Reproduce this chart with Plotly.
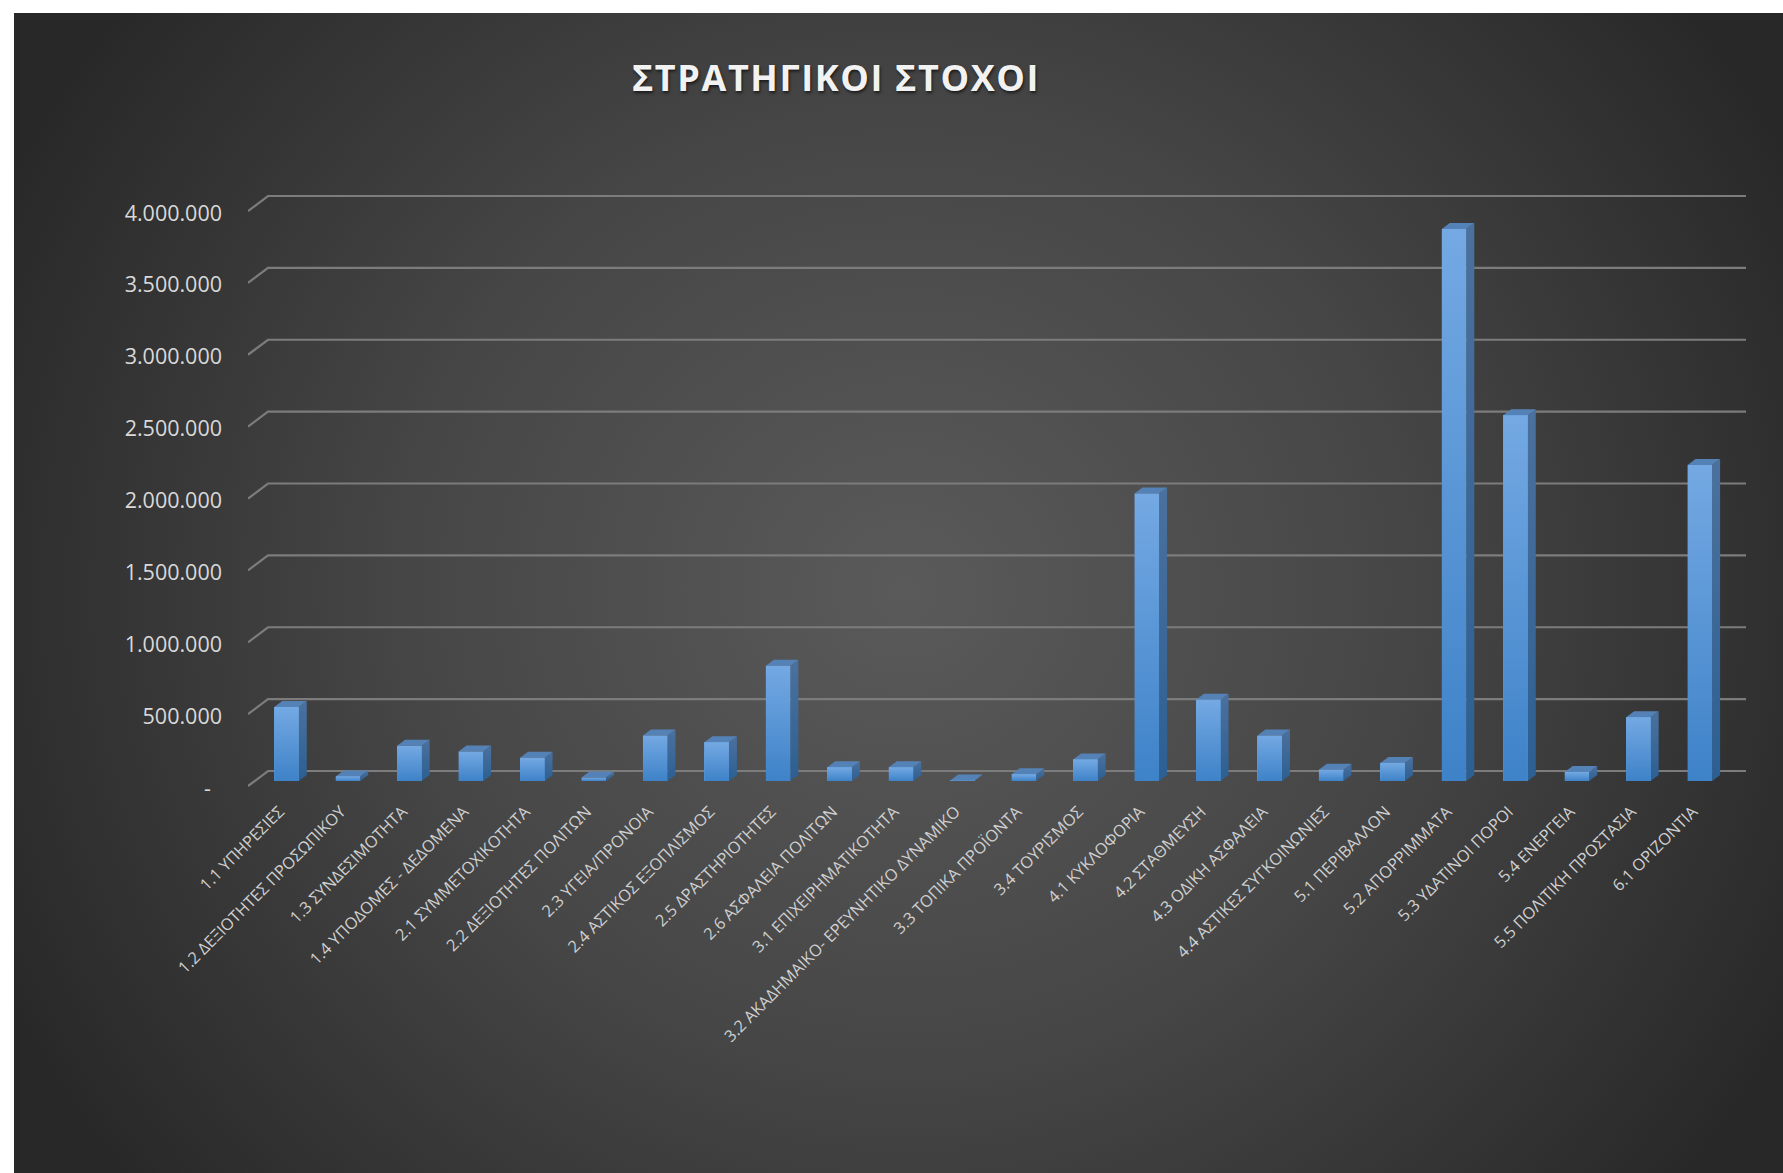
import base64
import plotly.graph_objects as go

categories = ["1.1 ΥΠΗΡΕΣΙΕΣ", "1.2 ΔΕΞΙΟΤΗΤΕΣ ΠΡΟΣΩΠΙΚΟΥ", "1.3 ΣΥΝΔΕΣΙΜΟΤΗΤΑ", "1.4 ΥΠΟΔΟΜΕΣ - ΔΕΔΟΜΕΝΑ",
              "2.1 ΣΥΜΜΕΤΟΧΙΚΟΤΗΤΑ", "2.2 ΔΕΞΙΟΤΗΤΕΣ ΠΟΛΙΤΩΝ", "2.3 ΥΓΕΙΑ/ΠΡΟΝΟΙΑ", "2.4 ΑΣΤΙΚΟΣ ΕΞΟΠΛΙΣΜΟΣ",
              "2.5 ΔΡΑΣΤΗΡΙΟΤΗΤΕΣ", "2.6 ΑΣΦΑΛΕΙΑ ΠΟΛΙΤΩΝ", "3.1 ΕΠΙΧΕΙΡΗΜΑΤΙΚΟΤΗΤΑ",
              "3.2 ΑΚΑΔΗΜΑΙΚΟ- ΕΡΕΥΝΗΤΙΚΟ ΔΥΝΑΜΙΚΟ", "3.3 ΤΟΠΙΚΑ ΠΡΟΪΟΝΤΑ", "3.4 ΤΟΥΡΙΣΜΟΣ", "4.1 ΚΥΚΛΟΦΟΡΙΑ",
              "4.2 ΣΤΑΘΜΕΥΣΗ", "4.3 ΟΔΙΚΗ ΑΣΦΑΛΕΙΑ", "4.4 ΑΣΤΙΚΕΣ ΣΥΓΚΟΙΝΩΝΙΕΣ", "5.1 ΠΕΡΙΒΑΛΛΟΝ",
              "5.2 ΑΠΟΡΡΙΜΜΑΤΑ", "5.3 ΥΔΑΤΙΝΟΙ ΠΟΡΟΙ", "5.4 ΕΝΕΡΓΕΙΑ", "5.5 ΠΟΛΙΤΙΚΗ ΠΡΟΣΤΑΣΙΑ", "6.1 ΟΡΙΖΟΝΤΙΑ"]
values = [514000, 32000, 245000, 205000, 162000, 24000, 316000, 269000, 802000, 95000, 95000, 3000,
          47000, 150000, 2000000, 565000, 316000, 79000, 126000, 3840000, 2545000, 63000, 443000, 2198000]
tick_values = [0, 500000, 1000000, 1500000, 2000000, 2500000, 3000000, 3500000, 4000000]
tick_labels = ["-\u00a0\u00a0", "500.000", "1.000.000", "1.500.000", "2.000.000", "2.500.000", "3.000.000", "3.500.000", "4.000.000"]

W, H = 1783, 1173
PX_PER_UNIT = 143.75 / 1e6      # vertical pixels per value unit
PX_PER_CAT = 61.45              # horizontal pixels per category
BASE_PX = 781                   # baseline of the bars
FIRST_PX = 286.5                # centre of the first bar
LEFT_PX, RIGHT_PX, BOTTOM_PX = 248, 1746, 797

x_range = [(LEFT_PX - FIRST_PX) / PX_PER_CAT, (RIGHT_PX - FIRST_PX) / PX_PER_CAT]
y_range = [-(BOTTOM_PX - BASE_PX) / PX_PER_UNIT, BASE_PX / PX_PER_UNIT]
BAR_W = 24.5 / PX_PER_CAT
DX, DY = 8 / PX_PER_CAT, 6 / PX_PER_UNIT     # bar depth offsets
FRONT_DY = -5 / PX_PER_UNIT                  # front edge of the floor
BACK_DY = 10 / PX_PER_UNIT                   # back wall
WALL_DX = 20 / PX_PER_CAT
YLABEL_DY = -2 / PX_PER_UNIT                 # y labels sit slightly under the stub end
XLABEL_DX = -7 / PX_PER_CAT                  # x labels end left of the bar centre

svg = f'''<svg xmlns="http://www.w3.org/2000/svg" width="{W}" height="{H}" viewBox="0 0 {W} {H}">
<defs><radialGradient id="g" gradientUnits="userSpaceOnUse" cx="0" cy="0" r="1" gradientTransform="translate(905 590) scale(1000 950)">
<stop offset="0" stop-color="#5a5a5a"/><stop offset="0.5" stop-color="#464646"/><stop offset="1" stop-color="#282828"/></radialGradient></defs>
<rect x="14" y="13" width="{W}" height="{H}" fill="url(#g)"/></svg>'''
bg = "data:image/svg+xml;base64," + base64.b64encode(svg.encode()).decode()

fig = go.Figure()

# Floor stub + back-wall gridline for every value tick
gx, gy = [], []
for v in tick_values:
    gx += [x_range[0], x_range[0] + WALL_DX, x_range[1], None]
    gy += [v + FRONT_DY, v + BACK_DY, v + BACK_DY, None]
fig.add_trace(go.Scatter(x=gx, y=gy, mode="lines", line=dict(color="#7c7c7c", width=2.2),
                         hoverinfo="skip", showlegend=False, xaxis="x", yaxis="y"))

xs = list(range(len(categories)))
fig.add_trace(go.Bar(x=xs, y=values, width=BAR_W, marker=dict(color="#5b9bd5", line=dict(width=0)),
                     showlegend=False, xaxis="x2", yaxis="y2", customdata=categories,
                     hovertemplate="%{customdata}: %{y:,.0f}<extra></extra>"))


def face(px, py, top, bottom):
    fig.add_trace(go.Scatter(x=px, y=py, mode="lines", fill="toself", line=dict(width=0),
                             fillgradient=dict(type="vertical", colorscale=[[0, bottom], [1, top]]),
                             hoverinfo="skip", showlegend=False, xaxis="x2", yaxis="y2"))


for i, v in zip(xs, values):
    l, r = i - BAR_W / 2, i + BAR_W / 2
    face([r, r + DX, r + DX, r, r], [0, DY, v + DY, v, 0], "#4b719e", "#2c5f92")   # side
    face([l, r, r + DX, l + DX, l], [v, v, v + DY, v + DY, v], "#5582b6", "#5582b6")  # top
    face([l, r, r, l, l], [0, 0, v, v, 0], "#74a9e3", "#3e82c8")                   # front

axis_common = dict(showgrid=False, zeroline=False, showline=False)
fig.update_layout(
    width=W, height=H, autosize=False,
    margin=dict(l=0, r=0, t=0, b=0, pad=0),
    paper_bgcolor="white", plot_bgcolor="rgba(0,0,0,0)",
    bargap=0, showlegend=False,
    images=[dict(source=bg, xref="paper", yref="paper", x=0, y=1, sizex=1, sizey=1,
                 sizing="stretch", xanchor="left", yanchor="top", layer="below")],
    title=dict(text="ΣΤΡΑΤΗΓΙΚΟΙ ΣΤΟΧΟΙ", xref="paper", yref="paper",
               x=836 / W, y=1 - 78 / H, xanchor="center", yanchor="middle",
               font=dict(family="Open Sans", size=36, weight=700, color="#f2f2f2",
                         shadow="1px 2px 3px rgba(0,0,0,0.6)")),
    xaxis=dict(domain=[LEFT_PX / W, RIGHT_PX / W], range=x_range, tickmode="array",
               tickvals=[i + XLABEL_DX for i in xs], ticktext=categories,
               tickangle=-45, tickfont=dict(family="Open Sans", size=16.3, color="#d0d0d0"),
               ticks="", ticklabelstandoff=1, automargin=False, **axis_common),
    yaxis=dict(domain=[1 - BOTTOM_PX / H, 1], range=y_range, tickmode="array",
               tickvals=[v + FRONT_DY + YLABEL_DY for v in tick_values], ticktext=tick_labels,
               tickfont=dict(family="Open Sans", size=21.5, color="#d9d9d9"),
               ticks="", ticklabelstandoff=25, automargin=False, **axis_common),
    xaxis2=dict(overlaying="x", matches="x", visible=False, **axis_common),
    yaxis2=dict(overlaying="y", matches="y", visible=False, **axis_common),
)

fig.write_html("out.html", config={"displayModeBar": False},
               post_script="document.body.style.margin='0';document.body.style.overflow='hidden';"
                           "document.querySelectorAll('.gtitle').forEach(function(t){t.style.letterSpacing='1.6px';});")
